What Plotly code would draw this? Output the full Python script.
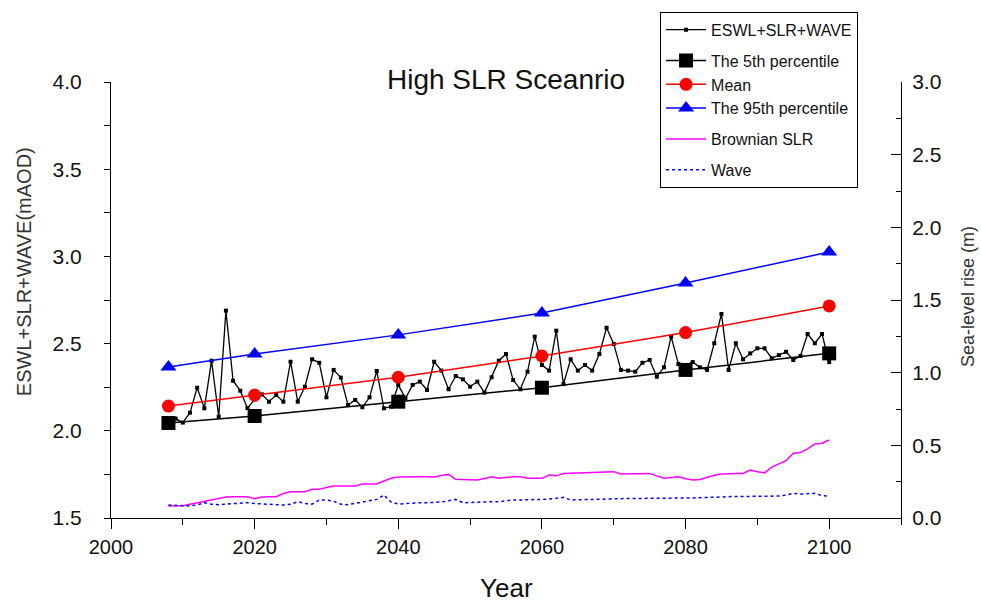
import plotly.graph_objects as go

years = list(range(2008, 2101))
eswl = [2.05, 2.07, 2.047, 2.104, 2.247, 2.129, 2.402, 2.081, 2.689, 2.287,
        2.23, 2.13, 2.18, 2.209, 2.167, 2.205, 2.167, 2.396, 2.167, 2.253,
        2.41, 2.39, 2.192, 2.349, 2.305, 2.148, 2.177, 2.135, 2.192, 2.343,
        2.129, 2.138, 2.263, 2.186, 2.263, 2.282, 2.234, 2.396, 2.345, 2.238,
        2.314, 2.295, 2.253, 2.282, 2.219, 2.307, 2.402, 2.44, 2.291, 2.238,
        2.339, 2.54, 2.377, 2.345, 2.574, 2.268, 2.41, 2.345, 2.377, 2.345,
        2.44, 2.591, 2.498, 2.349, 2.345, 2.339, 2.39, 2.406, 2.31, 2.364,
        2.54, 2.383, 2.377, 2.394, 2.364, 2.349, 2.502, 2.67, 2.349, 2.502,
        2.41, 2.444, 2.473, 2.473, 2.416, 2.434, 2.453, 2.406, 2.429, 2.555,
        2.502, 2.555, 2.394]

pct_years = [2008, 2020, 2040, 2060, 2080, 2100]
p5 = [2.045, 2.085, 2.167, 2.247, 2.349, 2.444]
mean = [2.142, 2.205, 2.307, 2.429, 2.563, 2.716]
p95 = [2.366, 2.44, 2.55, 2.675, 2.848, 3.025]

brownian = [0.083, 0.083, 0.085, 0.095, 0.105, 0.114, 0.127, 0.138, 0.145, 0.147,
            0.147, 0.147, 0.133, 0.145, 0.147, 0.147, 0.168, 0.181, 0.181, 0.181,
            0.197, 0.197, 0.21, 0.22, 0.22, 0.22, 0.22, 0.234, 0.234, 0.234,
            0.255, 0.274, 0.282, 0.284, 0.284, 0.284, 0.284, 0.282, 0.292, 0.30,
            0.266, 0.264, 0.261, 0.261, 0.272, 0.284, 0.273, 0.28, 0.284, 0.284,
            0.273, 0.273, 0.273, 0.296, 0.29, 0.307, 0.309, 0.31, 0.312, 0.314,
            0.316, 0.318, 0.319, 0.303, 0.303, 0.303, 0.307, 0.307, 0.29, 0.273,
            0.278, 0.284, 0.27, 0.261, 0.265, 0.28, 0.294, 0.302, 0.307, 0.307,
            0.307, 0.33, 0.319, 0.31, 0.35, 0.37, 0.394, 0.445, 0.45, 0.475,
            0.51, 0.514, 0.537]

wave = [0.089, 0.086, 0.084, 0.083, 0.09, 0.105, 0.095, 0.092, 0.096, 0.1,
        0.104, 0.105, 0.1, 0.096, 0.093, 0.09, 0.089, 0.095, 0.112, 0.1,
        0.095, 0.124, 0.124, 0.115, 0.095, 0.092, 0.1, 0.112, 0.116, 0.128,
        0.158, 0.11, 0.096, 0.1, 0.105, 0.105, 0.105, 0.105, 0.11, 0.118,
        0.128, 0.105, 0.108, 0.11, 0.112, 0.112, 0.112, 0.118, 0.124, 0.124,
        0.124, 0.124, 0.128, 0.13, 0.135, 0.142, 0.124, 0.126, 0.128, 0.13,
        0.132, 0.132, 0.133, 0.133, 0.134, 0.134, 0.135, 0.135, 0.135, 0.133,
        0.135, 0.135, 0.138, 0.138, 0.14, 0.14, 0.142, 0.144, 0.147, 0.147,
        0.147, 0.147, 0.147, 0.147, 0.147, 0.151, 0.158, 0.17, 0.165, 0.17,
        0.17, 0.153, 0.15]

FONT = "Liberation Sans, Arial, sans-serif"

fig = go.Figure()
fig.add_trace(go.Scatter(x=years, y=eswl, mode="lines+markers", name="ESWL+SLR+WAVE",
                         line=dict(color="black", width=1.3),
                         marker=dict(symbol="square", size=4, color="black"),
                         legendgroup="g1"))
fig.add_trace(go.Scatter(x=pct_years, y=p5, mode="lines+markers", name="The 5th percentile",
                         line=dict(color="black", width=1.5),
                         marker=dict(symbol="square", size=14, color="black"),
                         legendgroup="g2"))
fig.add_trace(go.Scatter(x=pct_years, y=mean, mode="lines+markers", name="Mean",
                         line=dict(color="red", width=1.5),
                         marker=dict(symbol="circle", size=13, color="red"),
                         legendgroup="g2"))
fig.add_trace(go.Scatter(x=pct_years, y=p95, mode="lines+markers", name="The 95th percentile",
                         line=dict(color="blue", width=1.5),
                         marker=dict(symbol="triangle-up", size=14, color="blue"),
                         legendgroup="g2"))
fig.add_trace(go.Scatter(x=years, y=brownian, mode="lines", name="Brownian SLR",
                         line=dict(color="#ff00ff", width=1.5), yaxis="y2",
                         legendgroup="g3"))
fig.add_trace(go.Scatter(x=years, y=wave, mode="lines", name="Wave",
                         line=dict(color="blue", width=1.5, dash="dot"), yaxis="y2",
                         legendgroup="g4"))

xtickfont = dict(family=FONT, size=20, color="#111")
ytickfont = dict(family=FONT, size=21, color="#111")

fig.update_layout(
    width=981, height=605,
    margin=dict(l=111, r=80, t=82, b=87),
    paper_bgcolor="white", plot_bgcolor="white",
    showlegend=True,
    legend=dict(x=0.695, y=1.161, xanchor="left", yanchor="top",
                bgcolor="white", bordercolor="black", borderwidth=1,
                font=dict(family=FONT, size=16, color="#111"),
                itemwidth=40, tracegroupgap=7, traceorder="grouped"),
    xaxis=dict(range=[2000, 2110], tick0=2000, dtick=20, showgrid=False, zeroline=False,
               showline=True, linecolor="black", linewidth=1,
               ticks="outside", ticklen=10, tickcolor="black",
               minor=dict(dtick=10, ticks="outside", ticklen=6, tickcolor="black"),
               tickfont=xtickfont, ticklabelstandoff=1),
    yaxis=dict(range=[1.5, 4.0], dtick=0.5, tickformat=".1f", showgrid=False, zeroline=False,
               showline=True, linecolor="black", linewidth=1,
               ticks="outside", ticklen=6, tickcolor="black",
               minor=dict(dtick=0.25, ticks="outside", ticklen=6, tickcolor="black"),
               tickfont=ytickfont, ticklabelstandoff=18),
    yaxis2=dict(range=[0, 3.0], dtick=0.5, tickformat=".1f", overlaying="y", side="right",
                showgrid=False, zeroline=False,
                showline=True, linecolor="black", linewidth=1,
                ticks="inside", ticklen=10, tickcolor="black",
                minor=dict(dtick=0.25, ticks="inside", ticklen=5, tickcolor="black"),
                tickfont=ytickfont, ticklabelstandoff=6),
    annotations=[
        dict(text="High SLR Sceanrio", x=0.5, y=1.0046, xref="paper", yref="paper",
             xanchor="center", yanchor="middle",
             showarrow=False, font=dict(family=FONT, size=28, color="#111")),
        dict(text="ESWL+SLR+WAVE(mAOD)", x=-0.110, y=0.564, xref="paper", yref="paper",
             xanchor="center", yanchor="middle",
             textangle=-90, showarrow=False, font=dict(family=FONT, size=20, color="#333")),
        dict(text="Sea-level rise (m)", x=(968 - 111) / 790, y=0.507, xref="paper", yref="paper",
             xanchor="center", yanchor="middle",
             textangle=-90, showarrow=False, font=dict(family=FONT, size=18, color="#333")),
        dict(text="Year", x=0.5, y=(518 - 588) / 436, xref="paper", yref="paper",
             xanchor="center", yanchor="middle",
             showarrow=False, font=dict(family=FONT, size=26, color="#111")),
    ],
)

fig.write_html("out.html")
